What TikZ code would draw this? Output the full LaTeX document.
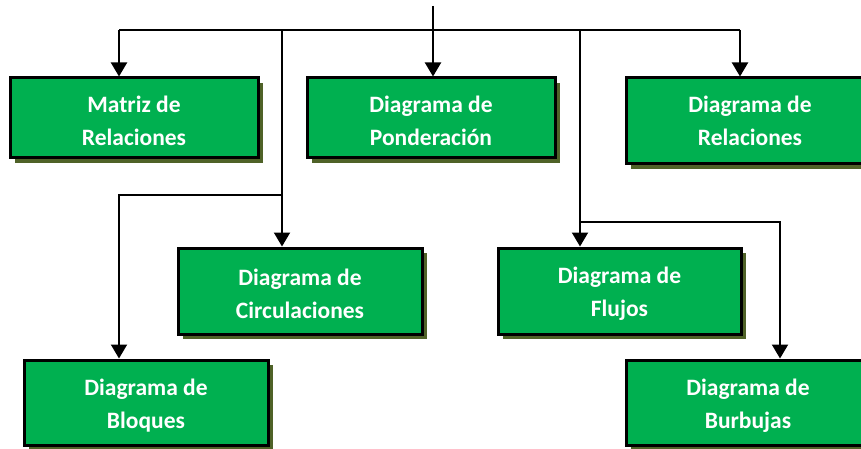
\documentclass[tikz,border=0pt]{standalone}
\usepackage{fontspec}
\newfontfamily\boxfont{Carlito}
\usetikzlibrary{arrows.meta,shadows}
\definecolor{boxgreen}{HTML}{00B050}
\definecolor{shadowc}{HTML}{4F6228}
\tikzset{
  chartbox/.style={draw=black, line width=3pt, fill=boxgreen,
    inner sep=0pt,
    drop shadow={shadow xshift=5pt, shadow yshift=-5pt, fill=shadowc, opacity=1}},
  boxtext/.style={text=white, align=center, inner sep=0pt, yshift=-3pt,
    font=\boxfont\bfseries\fontsize{23.5}{33}\selectfont},
  conn/.style={line width=2pt, draw=black},
  arr/.style={conn, -{Triangle[width=16pt,length=14pt]}},
}
\begin{document}
\begin{tikzpicture}[x=1pt,y=-1pt]
\useasboundingbox (0,0) rectangle (861,449);
\node[chartbox, minimum width=248pt, minimum height=80pt,
  label={[boxtext]center:Matriz de\\Relaciones}] (mat) at (134,118) {};
\node[chartbox, minimum width=248pt, minimum height=80pt,
  label={[boxtext]center:Diagrama de\\Ponderación}] (pond) at (431,118) {};
\node[chartbox, minimum width=248pt, minimum height=86pt,
  label={[boxtext,yshift=3pt]center:Diagrama de\\Relaciones}] (rel) at (750,121) {};
\node[chartbox, minimum width=244pt, minimum height=86pt,
  label={[boxtext]center:Diagrama de\\Circulaciones}] (circ) at (300,291) {};
\node[chartbox, minimum width=243pt, minimum height=86pt,
  label={[boxtext]center:Diagrama de\\Flujos}] (flu) at (619.5,291) {};
\node[chartbox, minimum width=244pt, minimum height=85pt,
  label={[boxtext]center:Diagrama de\\Bloques}] (bloq) at (146,402.5) {};
\node[chartbox, minimum width=244pt, minimum height=85pt,
  label={[boxtext]center:Diagrama de\\Burbujas}] (burb) at (748,402.5) {};
\coordinate (src) at (433,6);
\coordinate (jL) at (119,30);
\coordinate (jR) at (740,30);
\coordinate (jC) at (282,30);
\coordinate (jF) at (580,30);
\coordinate (bC) at (282,195);
\coordinate (bB) at (119,195);
\coordinate (bF) at (580,222);
\coordinate (bU) at (780,222);
\draw[conn] (jL) -- (jR);
\draw[arr] (src) -- (src |- pond.north);
\draw[arr] (jL) -- (jL |- mat.north);
\draw[arr] (jR) -- (jR |- rel.north);
\draw[arr] (jC) -- (jC |- circ.north);
\draw[arr] (bC) -- (bB) -- (bB |- bloq.north);
\draw[arr] (jF) -- (jF |- flu.north);
\draw[arr] (bF) -- (bU) -- (bU |- burb.north);
\end{tikzpicture}
\end{document}
